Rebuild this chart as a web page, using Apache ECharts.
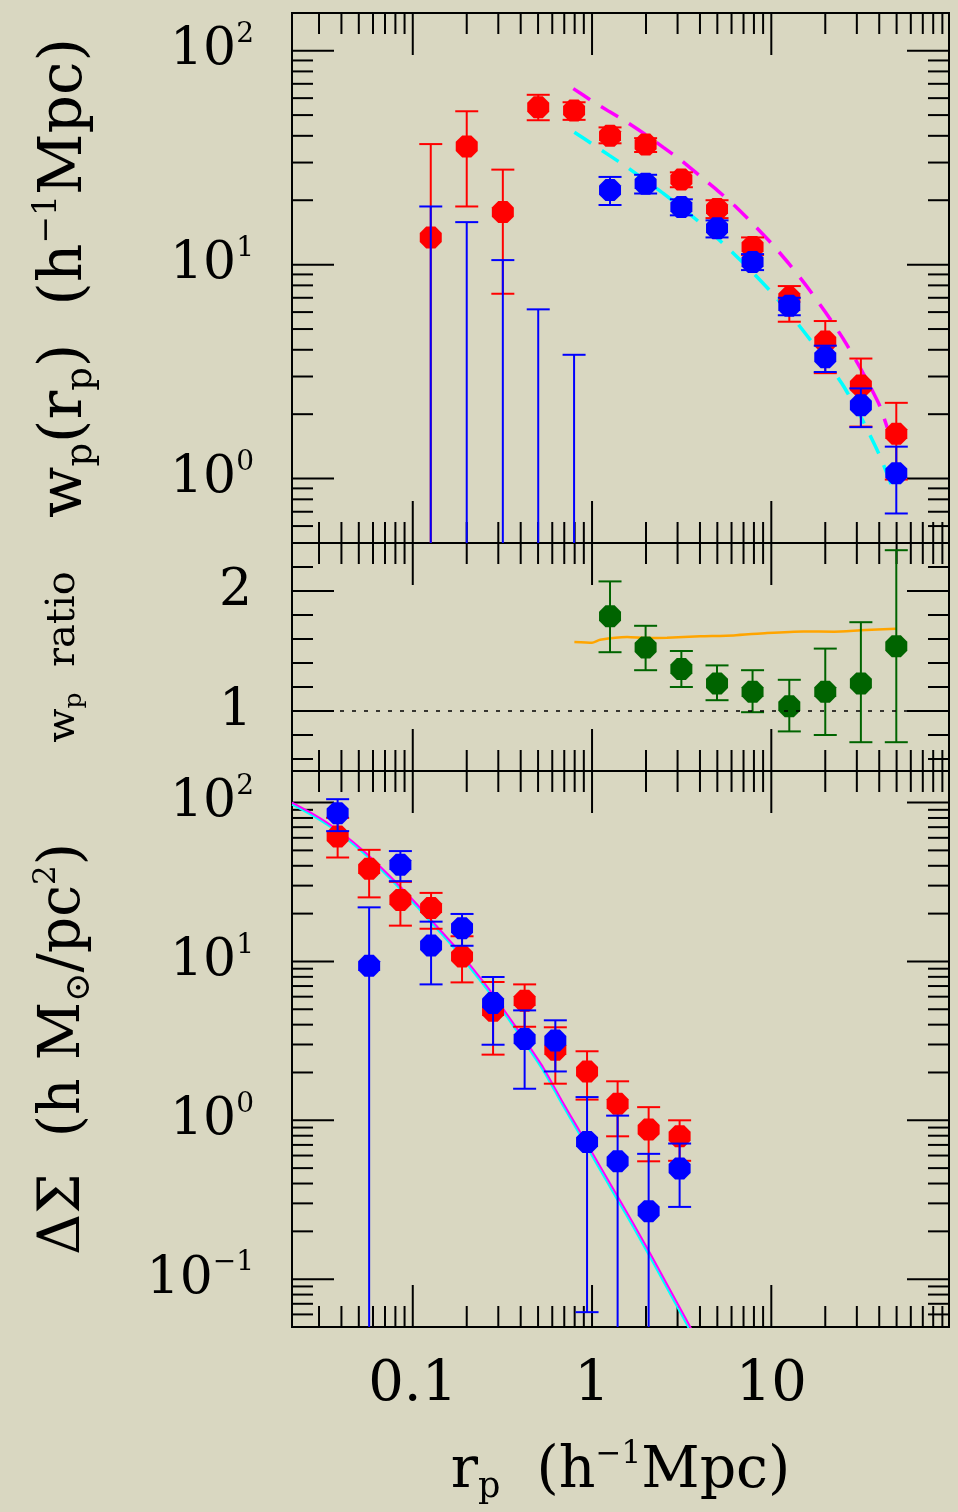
<!DOCTYPE html>
<html><head><meta charset="utf-8">
<script src="https://cdn.jsdelivr.net/npm/echarts@6/dist/echarts.min.js"></script>
<style>html,body{margin:0;padding:0;background:#d9d7c1;}#c{width:958px;height:1512px;}</style>
</head><body><div id="c"></div>
<script>
// ---------------- data ----------------
// top panel: projected correlation function w_p(r_p)
const wpR = [0.126, 0.200, 0.318, 0.501, 0.794, 1.26, 1.99, 3.15, 4.98, 7.86, 12.6, 20.0, 31.6, 49.8];
const redWp   = [13.4, 35.7, 17.6, 54.4, 52.5, 40.0, 36.4, 25.0, 18.2, 12.1, 6.98, 4.37, 2.72, 1.62];
const redWpLo = [0.01, 18.7, 7.31, 47.3, 47.5, 36.9, 33.6, 23.0, 16.5, 11.1, 5.41, 3.11, 1.75, 0.99];
const redWpHi = [36.6, 52.1, 27.8, 62.2, 57.4, 43.8, 39.0, 27.0, 20.0, 13.4, 7.94, 5.45, 3.64, 2.26];
const blueWp   = [null, null, null, null, null, 22.3, 23.9, 18.6, 14.8, 10.3, 6.43, 3.69, 2.20, 1.06];
const blueWpLo = [0.01, 0.01, 0.01, 0.01, 0.01, 19.0, 21.5, 17.0, 13.4, 9.43, 5.80, 3.15, 1.74, 0.687];
const blueWpHi = [18.7, 15.8, 10.5, 6.18, 3.79, 25.7, 26.3, 20.2, 16.1, 11.2, 7.00, 4.18, 2.64, 1.41];
// model curves (dashed)
const magWpX = [0.786, 0.991, 1.249, 1.574, 1.983, 2.498, 3.148, 3.967, 4.998, 6.298, 7.936, 10.0, 12.6, 15.88, 20.01, 25.21, 31.77, 40.03, 44.36];
const magWpY = [66.5, 58.5, 51.9, 46.2, 40.6, 35.3, 30.7, 26.1, 22.25, 18.74, 15.45, 12.6, 10.05, 7.855, 6.005, 4.495, 3.223, 2.213, 1.729];
const cyaWpX = [0.797, 0.991, 1.249, 1.574, 1.983, 2.498, 3.148, 3.967, 4.998, 6.298, 7.936, 10.0, 12.6, 15.88, 20.01, 25.21, 31.77, 40.03, 47.9];
const cyaWpY = [41.6, 36.85, 32.4, 28.48, 24.77, 21.54, 18.54, 15.79, 13.29, 11.07, 9.13, 7.44, 5.94, 4.64, 3.587, 2.715, 1.925, 1.294, 0.889];

// middle panel: w_p ratio
const ratioR  = [1.26, 1.99, 3.15, 4.98, 7.86, 12.6, 20.0, 31.6, 49.8];
const ratio   = [1.79, 1.53, 1.35, 1.23, 1.16, 1.04, 1.16, 1.23, 1.54];
const ratioLo = [1.49, 1.34, 1.20, 1.09, 0.99, 0.83, 0.80, 0.74, 0.74];
const ratioHi = [2.08, 1.71, 1.50, 1.38, 1.34, 1.26, 1.52, 1.74, 2.34];
const orangeX = [0.797, 1.0, 1.11, 1.57, 2.03, 2.62, 4.02, 6.16, 9.46, 15.1, 22.4, 31.4, 49.6];
const orangeY = [1.575, 1.569, 1.594, 1.617, 1.608, 1.611, 1.622, 1.63, 1.65, 1.663, 1.661, 1.672, 1.686];

// bottom panel: lensing Delta Sigma
const dsR = [0.0381, 0.0571, 0.0853, 0.1265, 0.1883, 0.2805, 0.4207, 0.6241, 0.938, 1.389, 2.069, 3.08];
const redDs   = [61.1, 38.3, 24.4, 21.7, 10.75, 4.9, 5.66, 2.78, 2.03, 1.27, 0.874, 0.793];
const redDsLo = [45.1, 25.3, 16.8, 16.06, 7.38, 2.59, 3.88, 1.70, 1.35, 0.793, 0.552, 0.556];
const redDsHi = [80.1, 50.4, 31.7, 27.0, 14.4, 7.42, 7.17, 3.85, 2.72, 1.76, 1.21, 1.0];
const blueDs   = [85.8, 9.4, 40.6, 12.6, 16.2, 5.47, 3.25, 3.18, 0.731, 0.552, 0.268, 0.497];
const blueDsLo = [66.1, 0.01, 32.0, 7.17, 12.55, 2.99, 1.58, 2.03, 0.062, 0.01, 0.01, 0.285];
const blueDsHi = [105.0, 21.9, 49.5, 17.8, 19.9, 7.98, 4.92, 4.26, 1.40, 1.07, 0.615, 0.714];
const modelDsX = [0.02122, 0.02651, 0.0334, 0.04208, 0.05302, 0.0668, 0.08418, 0.1061, 0.1337, 0.1684, 0.2122, 0.2674, 0.337, 0.4246, 0.535, 0.6741, 0.8494, 1.07, 1.349, 1.699, 2.141, 2.698, 3.4, 4.284];
const magDsY = [100, 87.4, 74.5, 61.75, 49.7, 38.85, 29.93, 22.73, 17.01, 12.74, 9.26, 6.64, 4.62, 3.17, 2.145, 1.349, 0.8615, 0.5498, 0.351, 0.224, 0.141, 0.0874, 0.0542, 0.0331];
const cyaDsY = [97.1, 84.9, 72.3, 59.9, 48.2, 37.6, 28.9, 21.9, 16.4, 12.25, 8.89, 6.37, 4.42, 3.03, 2.045, 1.284, 0.819, 0.522, 0.332, 0.212, 0.133, 0.0825, 0.0511, 0.0312];

// axes / ticks
const X_MIN = 0.0212, X_MAX = 98;
const xMajorTicks = [0.1, 1, 10];
const xMinorTicks = [0.03,0.04,0.05,0.06,0.07,0.08,0.09,0.2,0.3,0.4,0.5,0.6,0.7,0.8,0.9,2,3,4,5,6,7,8,9,20,30,40,50,60,70,80,90];
const wpMajorTicks = [1, 10, 100];
const wpMinorTicks = [0.6,0.7,0.8,0.9,2,3,4,5,6,7,8,9,20,30,40,50,60,70,80,90];
const ratioMajorTicks = [1, 2];
const ratioMinorTicks = [0.6, 0.8, 1.2, 1.4, 1.6, 1.8, 2.2];
const dsMajorTicks = [0.1, 1, 10, 100];
const dsMinorTicks = [0.06,0.07,0.08,0.09,0.2,0.3,0.4,0.5,0.6,0.7,0.8,0.9,2,3,4,5,6,7,8,9,20,30,40,50,60,70,80,90];

// ---------------- chart ----------------
const FONT = "'DejaVu Serif', serif";
const OCT = 'path://M0.5858 0L1.4142 0L2 0.5858L2 1.4142L1.4142 2L0.5858 2L0 1.4142L0 0.5858Z';

function isPow10(v){ const l = Math.log10(v); return Math.abs(l - Math.round(l)) < 1e-6; }

function tickRender(xMaj, xMin, yMaj, yMin, refX, refY){
  return function(params, api){
    const cs = params.coordSys;
    const L = cs.x, R = cs.x + cs.width, T = cs.y, B = cs.y + cs.height;
    const ch = [];
    const add = (x1,y1,x2,y2) => ch.push({type:'line', shape:{x1,y1,x2,y2}, style:{stroke:'#000', lineWidth:2}});
    xMaj.forEach(v => { const x = api.coord([v, refY])[0]; add(x,B,x,B-42); add(x,T,x,T+42); });
    xMin.forEach(v => { const x = api.coord([v, refY])[0]; add(x,B,x,B-21); add(x,T,x,T+21); });
    yMaj.forEach(v => { const y = api.coord([refX, v])[1]; add(L,y,L+42,y); add(R,y,R-42,y); });
    yMin.forEach(v => { const y = api.coord([refX, v])[1]; add(L,y,L+21,y); add(R,y,R-21,y); });
    return {type:'group', children: ch};
  };
}

function errRender(color){
  return function(params, api){
    const cs = params.coordSys;
    const T = cs.y, B = cs.y + cs.height;
    const x = api.value(0);
    const pLo = api.coord([x, api.value(1)]);
    const pHi = api.coord([x, api.value(2)]);
    const px = pLo[0];
    const ch = [];
    const st = {stroke: color, lineWidth: 2};
    const c1 = Math.max(T, Math.min(B, pHi[1])), c2 = Math.max(T, Math.min(B, pLo[1]));
    ch.push({type:'line', shape:{x1:px, y1:c1, x2:px, y2:c2}, style:st});
    [pHi[1], pLo[1]].forEach(y => {
      if (y >= T && y <= B) ch.push({type:'line', shape:{x1:px-11.5, y1:y, x2:px+11.5, y2:y}, style:st});
    });
    return {type:'group', children: ch};
  };
}

function errSeries(idx, xs, lo, hi, color, z){
  return {type:'custom', xAxisIndex:idx, yAxisIndex:idx, renderItem: errRender(color), silent:true,
    encode:{x:0, y:[1,2]}, z: z, data: xs.map((x,i) => [x, lo[i], hi[i]])};
}
function ptSeries(idx, xs, ys, color, z){
  const d = [];
  xs.forEach((x,i) => { if (ys[i] != null) d.push([x, ys[i]]); });
  return {type:'scatter', xAxisIndex:idx, yAxisIndex:idx, symbol: OCT, symbolSize: 22, silent:true,
    itemStyle:{color: color, opacity:1}, z: z, data: d};
}
function lineSeries(idx, xs, ys, color, dashed, width, z){
  return {type:'line', xAxisIndex:idx, yAxisIndex:idx, showSymbol:false, silent:true, smooth:0.2, z: z,
    lineStyle:{color: color, width: width, type: dashed ? [20,13] : 'solid'},
    data: xs.map((x,i) => [x, ys[i]])};
}

const supRich = {
  b: {fontFamily: FONT, fontSize: 52, lineHeight: 60, color:'#000'},
  e: {fontFamily: FONT, fontSize: 28, lineHeight: 30, verticalAlign:'top', color:'#000'}
};
function logYLabel(v){
  if (!isPow10(v)) return '';
  const k = Math.round(Math.log10(v));
  return '{b|10}{e|' + (k < 0 ? '\u2212' + (-k) : k) + '}';
}
const titleRich = (fs) => ({
  m: {fontFamily: FONT, fontSize: fs, lineHeight: Math.round(fs*1.15), color:'#000'},
  s: {fontFamily: FONT, fontSize: Math.round(fs*0.62), lineHeight: Math.round(fs*0.62), verticalAlign:'bottom', color:'#000'},
  u: {fontFamily: FONT, fontSize: Math.round(fs*0.55), lineHeight: Math.round(fs*0.55), verticalAlign:'top', color:'#000'}
});

const grids = [
  {left: 292, width: 657, top: 13, height: 530},
  {left: 292, width: 657, top: 543, height: 228},
  {left: 292, width: 657, top: 771, height: 556}
].map(g => Object.assign(g, {show:true, borderColor:'#000', borderWidth:2, backgroundColor:'transparent', containLabel:false}));

const xAxes = [0,1,2].map(i => ({
  gridIndex: i, type:'log', logBase:10, min: X_MIN, max: X_MAX,
  axisLine:{show:false}, axisTick:{show:false}, splitLine:{show:false},
  axisLabel:{show: i === 2, interval: 0, margin: 30, fontFamily: FONT, fontSize: 56, color:'#000',
    formatter: v => isPow10(v) ? String(+(+v).toPrecision(3)) : ''},
  name: i === 2 ? '{m|r}{s|p}{m|  (h}{u|\u22121}{m|Mpc)}' : '',
  nameLocation:'middle', nameGap: 112,
  nameTextStyle: {rich: titleRich(57)}
}));

const yAxes = [
  {gridIndex:0, type:'log', logBase:10, min:0.5, max:150,
   axisLabel:{formatter: logYLabel, rich: supRich, margin: 38},
   name:'{m|w}{s|p}{m|(r}{s|p}{m|)  (h}{u|\u22121}{m|Mpc)}', nameGap: 192, nameTextStyle:{rich: titleRich(60)}},
  {gridIndex:1, type:'value', min:0.5, max:2.4, interval:0.5,
   axisLabel:{formatter: v => (Math.abs(v-1) < 1e-9 ? '1' : (Math.abs(v-2) < 1e-9 ? '2' : '')), margin: 40,
     fontFamily: FONT, fontSize: 52, color:'#000'},
   name:'{m|w}{s|p}{m|  ratio}', nameGap: 205, nameTextStyle:{rich: titleRich(40)}},
  {gridIndex:2, type:'log', logBase:10, min:0.05, max:158,
   axisLabel:{formatter: logYLabel, rich: supRich, margin: 38},
   name:'{m|\u0394\u03a3  (h M}{s|\u2299}{m|/pc}{u|2}{m|)}', nameGap: 195, nameTextStyle:{rich: titleRich(57)}}
].map(a => Object.assign(a, {nameLocation:'middle', nameRotate:90,
   axisLine:{show:false}, axisTick:{show:false}, splitLine:{show:false}}));

const series = [
  {type:'custom', xAxisIndex:0, yAxisIndex:0, silent:true, z:1, data:[[1,1]],
   renderItem: tickRender(xMajorTicks, xMinorTicks, wpMajorTicks, wpMinorTicks, 1, 1)},
  {type:'custom', xAxisIndex:1, yAxisIndex:1, silent:true, z:1, data:[[1,1]],
   renderItem: tickRender(xMajorTicks, xMinorTicks, ratioMajorTicks, ratioMinorTicks, 1, 1)},
  {type:'custom', xAxisIndex:2, yAxisIndex:2, silent:true, z:1, data:[[1,1]],
   renderItem: tickRender(xMajorTicks, xMinorTicks, dsMajorTicks, dsMinorTicks, 1, 1)},

  // top panel
  lineSeries(0, magWpX, magWpY, '#ff00ff', true, 3.5, 2),
  lineSeries(0, cyaWpX, cyaWpY, '#00ffff', true, 3.5, 2),
  errSeries(0, wpR, redWpLo, redWpHi, '#ff0000', 3),
  ptSeries(0, wpR, redWp, '#ff0000', 4),
  errSeries(0, wpR, blueWpLo, blueWpHi, '#0000ff', 5),
  ptSeries(0, wpR, blueWp, '#0000ff', 6),

  // middle panel
  {type:'line', xAxisIndex:1, yAxisIndex:1, showSymbol:false, silent:true, z:2, data:[],
   markLine:{silent:true, symbol:['none','none'], label:{show:false},
     lineStyle:{color:'#000', width:1.5, type:[4,8]}, data:[{yAxis:1}]}},
  lineSeries(1, orangeX, orangeY, '#ffa500', false, 2.5, 2),
  errSeries(1, ratioR, ratioLo, ratioHi, '#006400', 3),
  ptSeries(1, ratioR, ratio, '#006400', 4),

  // bottom panel
  lineSeries(2, modelDsX, cyaDsY, '#00ffff', false, 2, 2),
  lineSeries(2, modelDsX, magDsY, '#ff00ff', false, 2, 2),
  errSeries(2, dsR, redDsLo, redDsHi, '#ff0000', 3),
  ptSeries(2, dsR, redDs, '#ff0000', 4),
  errSeries(2, dsR, blueDsLo, blueDsHi, '#0000ff', 5),
  ptSeries(2, dsR, blueDs, '#0000ff', 6)
];

const chart = echarts.init(document.getElementById('c'), null, {renderer:'canvas'});
chart.setOption({
  animation:false,
  backgroundColor:'#d9d7c1',
  grid: grids, xAxis: xAxes, yAxis: yAxes, series: series
});
</script></body></html>
